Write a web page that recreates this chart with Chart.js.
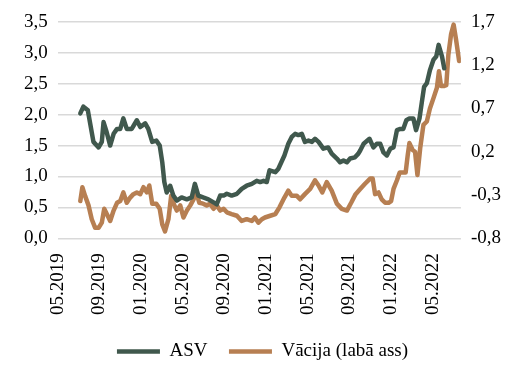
<!DOCTYPE html>
<html>
<head>
<meta charset="utf-8">
<script src="https://cdn.jsdelivr.net/npm/chart.js@4.4.1/dist/chart.umd.min.js"></script>
<style>
  html, body { margin: 0; padding: 0; background: #fff; }
  #wrap { width: 527px; height: 380px; }
</style>
</head>
<body>
<div id="wrap"><canvas id="chart1"></canvas></div>
<script>
// ASV (kreisā ass)
var asvDates = [
  '2019-07-06','2019-07-15','2019-07-28','2019-08-14','2019-08-29','2019-09-08','2019-09-13','2019-09-22','2019-10-02','2019-10-12',
  '2019-10-22','2019-11-01','2019-11-10','2019-11-20','2019-12-04','2019-12-19','2019-12-29','2020-01-13','2020-01-22','2020-02-03',
  '2020-02-15','2020-02-25','2020-03-02','2020-03-08','2020-03-15','2020-03-25','2020-04-04','2020-04-14','2020-04-28','2020-05-13',
  '2020-05-27','2020-06-06','2020-06-16','2020-06-30','2020-07-15','2020-07-30','2020-08-09','2020-08-19','2020-08-29','2020-09-08',
  '2020-09-22','2020-10-07','2020-10-21','2020-11-05','2020-11-20','2020-12-04','2020-12-14','2020-12-24','2021-01-03','2021-01-11',
  '2021-01-28','2021-02-06','2021-02-15','2021-02-24','2021-03-05','2021-03-15','2021-03-25','2021-04-04','2021-04-14','2021-04-23',
  '2021-05-03','2021-05-13','2021-05-22','2021-06-02','2021-06-16','2021-06-30','2021-07-10','2021-07-25','2021-08-04','2021-08-14',
  '2021-08-24','2021-09-03','2021-09-17','2021-09-27','2021-10-02','2021-10-12','2021-10-29','2021-11-10','2021-11-20','2021-11-30',
  '2021-12-09','2021-12-19','2021-12-29','2022-01-08','2022-01-18','2022-01-28','2022-02-06','2022-02-15','2022-02-24','2022-03-05',
  '2022-03-13','2022-03-23','2022-03-30','2022-04-06','2022-04-14','2022-04-23','2022-05-03','2022-05-11','2022-05-18','2022-05-28',
  '2022-06-04'
];
var asvValues = [
  2.02, 2.13, 2.07, 1.56, 1.47, 1.56, 1.88, 1.72, 1.50, 1.69,
  1.77, 1.77, 1.94, 1.77, 1.77, 1.91, 1.80, 1.86, 1.77, 1.56,
  1.58, 1.50, 1.23, 0.91, 0.74, 0.85, 0.69, 0.61, 0.66, 0.63,
  0.66, 0.88, 0.69, 0.66, 0.63, 0.58, 0.55, 0.69, 0.69, 0.72,
  0.69, 0.72, 0.80, 0.85, 0.88, 0.93, 0.91, 0.93, 0.91, 1.10,
  1.07, 1.12, 1.23, 1.34, 1.53, 1.64, 1.69, 1.67, 1.69, 1.56,
  1.58, 1.56, 1.61, 1.56, 1.45, 1.47, 1.37, 1.29, 1.23, 1.26,
  1.23, 1.29, 1.31, 1.37, 1.42, 1.53, 1.61, 1.47, 1.53, 1.53,
  1.39, 1.34, 1.45, 1.47, 1.75, 1.77, 1.77, 1.91, 1.94, 1.94,
  1.75, 1.94, 2.21, 2.45, 2.51, 2.72, 2.89, 2.94, 3.13, 2.94,
  2.75
];

// Vācija (labā ass)
var deDates = [
  '2019-07-06','2019-07-12','2019-07-20','2019-07-30','2019-08-09','2019-08-19','2019-08-29','2019-09-08','2019-09-15','2019-09-25',
  '2019-10-02','2019-10-12','2019-10-22','2019-11-01','2019-11-10','2019-11-20','2019-11-30','2019-12-09','2019-12-19','2019-12-29',
  '2020-01-08','2020-01-18','2020-01-25','2020-02-03','2020-02-15','2020-02-25','2020-03-02','2020-03-10','2020-03-20','2020-03-28',
  '2020-04-07','2020-04-14','2020-04-24','2020-05-03','2020-05-13','2020-05-23','2020-06-02','2020-06-10','2020-06-19','2020-06-30',
  '2020-07-10','2020-07-20','2020-07-30','2020-08-09','2020-08-19','2020-08-29','2020-09-08','2020-09-22','2020-10-07','2020-10-21',
  '2020-11-05','2020-11-20','2020-11-29','2020-12-09','2020-12-19','2020-12-28','2021-01-13','2021-01-28','2021-02-10','2021-02-24',
  '2021-03-05','2021-03-15','2021-03-30','2021-04-09','2021-04-23','2021-05-08','2021-05-22','2021-06-02','2021-06-13','2021-06-26',
  '2021-07-10','2021-07-25','2021-08-09','2021-08-24','2021-09-06','2021-09-19','2021-10-02','2021-10-16','2021-10-31','2021-11-08',
  '2021-11-15','2021-11-25','2021-12-04','2021-12-14','2021-12-24','2022-01-01','2022-01-08','2022-01-18','2022-01-26','2022-02-06',
  '2022-02-13','2022-02-19','2022-02-24','2022-03-03','2022-03-10','2022-03-17','2022-03-25','2022-04-04','2022-04-14','2022-04-23',
  '2022-05-03','2022-05-13','2022-05-19','2022-05-25','2022-06-04','2022-06-10','2022-06-16','2022-06-24','2022-07-01','2022-07-08',
  '2022-07-17'
];
var deValues = [
  -0.37, -0.21, -0.31, -0.42, -0.58, -0.68, -0.68, -0.62, -0.46, -0.54,
  -0.60, -0.48, -0.39, -0.37, -0.27, -0.39, -0.33, -0.29, -0.27, -0.29,
  -0.21, -0.27, -0.19, -0.40, -0.40, -0.46, -0.64, -0.72, -0.58, -0.31,
  -0.42, -0.48, -0.42, -0.56, -0.48, -0.42, -0.35, -0.27, -0.39, -0.40,
  -0.42, -0.40, -0.46, -0.42, -0.48, -0.46, -0.50, -0.52, -0.54, -0.60,
  -0.58, -0.60, -0.56, -0.62, -0.58, -0.56, -0.54, -0.52, -0.44, -0.33,
  -0.25, -0.31, -0.31, -0.35, -0.29, -0.23, -0.13, -0.19, -0.27, -0.15,
  -0.25, -0.40, -0.46, -0.48, -0.39, -0.29, -0.23, -0.17, -0.11, -0.11,
  -0.29, -0.27, -0.35, -0.39, -0.39, -0.37, -0.23, -0.13, -0.04, -0.04,
  -0.04, 0.16, 0.30, 0.22, 0.20, -0.07, 0.24, 0.51, 0.55, 0.70,
  0.82, 0.94, 1.13, 0.96, 0.96, 0.97, 1.32, 1.56, 1.67, 1.50,
  1.25
];

var leftTicks = [0, 3.5, 0.5];      // min, max, solis
var rightTicks = [-0.8, 1.7, 0.5];
var monthTickStep = 4;              // 05.2019, 09.2019, ...
var xMaxMonths = 38.7;

// mēneši kopš 2019. gada maija
function toMonths(s) {
    var p = s.split('-').map(Number);
    return (p[0] - 2019) * 12 + (p[1] - 5) + (p[2] - 1) / 30.4;
}
function points(dates, vals) {
    return dates.map(function(d, i) { return { x: toMonths(d), y: vals[i] }; });
}
function comma(v) { return v.toFixed(1).replace('.', ','); }
// atmest automātisko malu atstarpi, lai izkārtojumu nosaka layout.padding
function noPad(s) { s.paddingLeft = 0; s.paddingRight = 0; s.paddingTop = 0; s.paddingBottom = 0; }

var serif = 'Liberation Serif, Times New Roman, serif';

var ctx1 = document.getElementById('chart1').getContext('2d');
var chart1 = new Chart(ctx1, {
    type: 'line',
    data: {
        datasets: [{
            label: 'ASV',
            data: points(asvDates, asvValues),
            borderColor: '#40584d',
            borderWidth: 4.5,
            borderCapStyle: 'round',
            borderJoinStyle: 'round',
            pointRadius: 0,
            tension: 0,
            yAxisID: 'y'
        }, {
            label: 'Vācija (labā ass)',
            data: points(deDates, deValues),
            borderColor: '#b77f52',
            borderWidth: 4.5,
            borderCapStyle: 'round',
            borderJoinStyle: 'round',
            pointRadius: 0,
            tension: 0,
            yAxisID: 'y1'
        }]
    },
    options: {
        responsive: true,
        maintainAspectRatio: false,
        animation: false,
        layout: { padding: { left: 14, right: 16, top: 22, bottom: 9 } },
        plugins: {
            tooltip: { enabled: false },
            legend: {
                position: 'bottom',
                labels: {
                    usePointStyle: true,
                    pointStyle: 'line',
                    pointStyleWidth: 43,
                    padding: 12,
                    color: '#000',
                    font: { family: serif, size: 19 },
                    generateLabels: function(chart) {
                        var items = Chart.defaults.plugins.legend.labels.generateLabels(chart);
                        items[0].text += '  ';
                        return items;
                    }
                }
            }
        },
        scales: {
            x: {
                type: 'linear',
                min: 0,
                max: xMaxMonths,
                grid: { display: false, drawTicks: false },
                border: { display: false },
                afterFit: noPad,
                ticks: {
                    stepSize: monthTickStep,
                    includeBounds: false,
                    minRotation: 90,
                    maxRotation: 90,
                    padding: 15,
                    color: '#000',
                    font: { family: serif, size: 19 },
                    callback: function(v) {
                        var m = 4 + v;
                        var mo = (m % 12) + 1;
                        var yr = 2019 + Math.floor(m / 12);
                        return (mo < 10 ? '0' : '') + mo + '.' + yr;
                    }
                }
            },
            y: {
                position: 'left',
                min: leftTicks[0],
                max: leftTicks[1],
                grid: { color: '#d9d9d9', lineWidth: 1.5, drawTicks: false },
                border: { display: false },
                afterFit: noPad,
                ticks: {
                    stepSize: leftTicks[2],
                    padding: 10,
                    color: '#000',
                    font: { family: serif, size: 19 },
                    callback: function(v) { return comma(v); }
                }
            },
            y1: {
                position: 'right',
                min: rightTicks[0],
                max: rightTicks[1],
                grid: { display: false, drawTicks: false },
                border: { display: false },
                afterFit: noPad,
                ticks: {
                    stepSize: rightTicks[2],
                    padding: 10,
                    color: '#000',
                    font: { family: serif, size: 19 },
                    callback: function(v) { return comma(v); }
                }
            }
        }
    }
});
</script>
</body>
</html>
